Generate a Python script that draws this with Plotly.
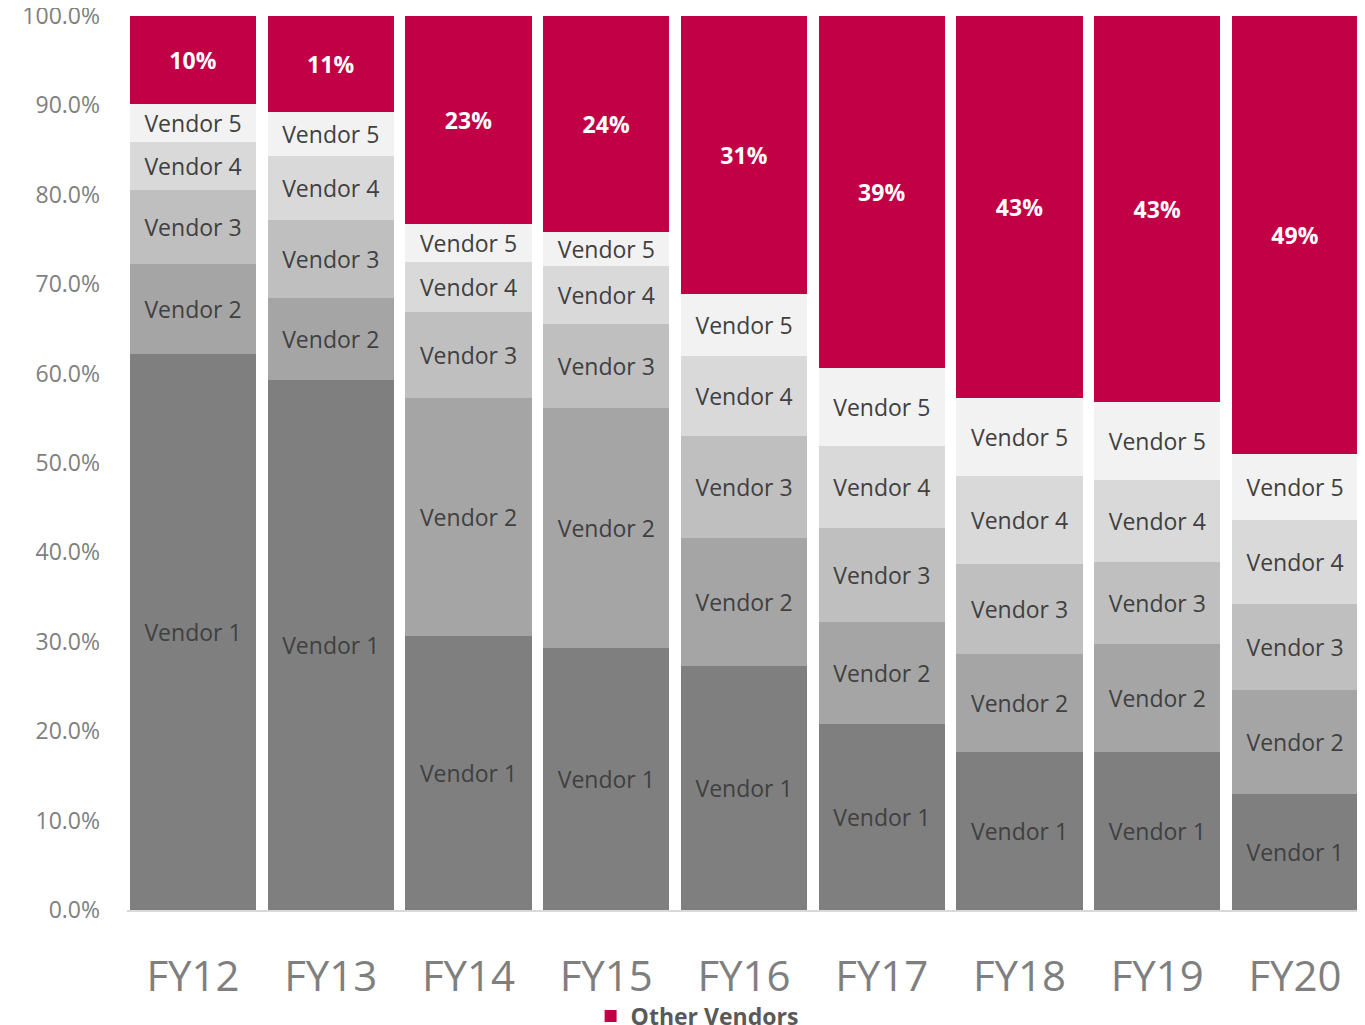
import plotly.graph_objects as go

years = ["FY12", "FY13", "FY14", "FY15", "FY16", "FY17", "FY18", "FY19", "FY20"]
vendor1 = [62.2, 59.3, 30.6, 29.3, 27.3, 20.8, 17.7, 17.7, 13.0]
vendor2 = [10.1, 9.2, 26.7, 26.9, 14.3, 11.4, 10.9, 12.1, 11.6]
vendor3 = [8.2, 8.7, 9.6, 9.3, 11.4, 10.5, 10.1, 9.1, 9.6]
vendor4 = [5.4, 7.1, 5.6, 6.5, 9.0, 9.2, 9.8, 9.2, 9.4]
vendor5 = [4.3, 5.0, 4.2, 3.8, 6.9, 8.7, 8.8, 8.7, 7.4]
other = [9.8, 10.7, 23.3, 24.2, 31.1, 39.4, 42.7, 43.2, 49.0]

series = [
    ("Vendor 1", vendor1, "#7f7f7f"),
    ("Vendor 2", vendor2, "#a5a5a5"),
    ("Vendor 3", vendor3, "#bfbfbf"),
    ("Vendor 4", vendor4, "#d9d9d9"),
    ("Vendor 5", vendor5, "#f2f2f2"),
]

FONT = "Open Sans, Noto Sans, DejaVu Sans, sans-serif"

fig = go.Figure()
for name, vals, col in series:
    fig.add_trace(go.Bar(
        x=years, y=vals, name=name, marker=dict(color=col, line=dict(width=0)),
        text=[name] * len(vals), textposition="inside", insidetextanchor="middle",
        textangle=0, constraintext="none",
        insidetextfont=dict(family=FONT, size=23, color="#404040"),
        showlegend=False,
    ))

fig.add_trace(go.Bar(
    x=years, y=other, name="<b>Other Vendors</b>",
    marker=dict(color="#c20046", line=dict(width=0)),
    text=[f"<b>{round(v)}%</b>" for v in other], textposition="inside",
    insidetextanchor="middle", textangle=0, constraintext="none",
    insidetextfont=dict(family=FONT, size=23, color="#ffffff"),
    showlegend=True,
))

fig.update_layout(
    width=1349, height=1017,
    barmode="stack", bargap=0.085,
    margin=dict(l=119, r=0, t=8, b=115, autoexpand=False),
    paper_bgcolor="white", plot_bgcolor="white",
    font=dict(family=FONT),
    legend=dict(orientation="h", x=0.4635, xanchor="center", y=-0.1186, yanchor="middle",
                font=dict(size=23, color="#595959", family=FONT),
                itemwidth=30, traceorder="normal"),
    xaxis=dict(
        range=[-0.479, 8.450], showgrid=False, showline=True, linecolor="#d9d9d9", linewidth=2,
        tickfont=dict(size=42, color="#7f7f7f", family=FONT), ticks="",
        ticklabelstandoff=29, automargin=False,
    ),
    yaxis=dict(
        range=[0, 100], dtick=10, tickformat=".1f", ticksuffix="%", showgrid=False,
        zeroline=False, showline=False,
        tickfont=dict(size=23, color="#7f7f7f", family=FONT), ticks="",
        ticklabelstandoff=26, automargin=False, ticklabeloverflow="allow",
    ),
)

fig.write_html("out.html")
